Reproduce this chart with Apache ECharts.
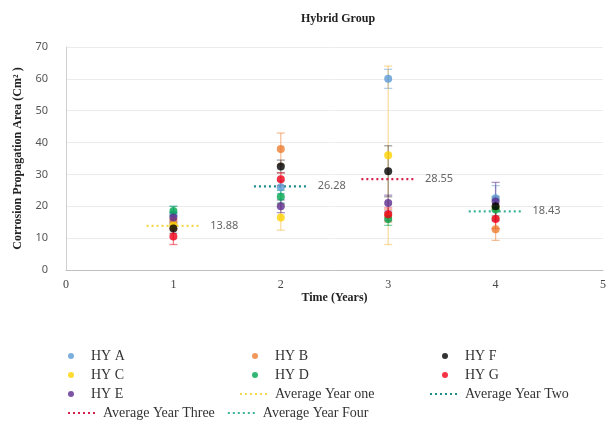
<!DOCTYPE html>
<html><head><meta charset="utf-8">
<script src="https://cdn.jsdelivr.net/npm/echarts@6/dist/echarts.min.js"></script>
<style>html,body{margin:0;padding:0;background:#fff}#c{width:609px;height:447px}</style>
</head><body><div id="c"></div>
<script>
var years = [1, 2, 3, 4];
var seriesNames = ['HY A', 'HY B', 'HY C', 'HY D', 'HY E', 'HY F', 'HY G'];
var hyA = [17.5, 26, 60, 22.5];
var hyB = [15.5, 38, 17, 12.8];
var hyC = [14, 16.5, 36, 19.5];
var hyD = [18.5, 23, 16, 19];
var hyE = [16.5, 20, 21, 21.5];
var hyF = [13, 32.5, 31, 20];
var hyG = [10.5, 28.5, 17.5, 16];
var errA = [2.5, 2, 3, 4];
var errB = [1.5, 5, 2, 3.5];
var errC = [1.5, 4, 28, 3];
var errD = [1.5, 2, 2, 3];
var errE = [1.5, 2, 2.5, 6];
var errF = [1.5, 2, 8, 3];
var errG = [2.5, 2, 2, 3];
var averages = [13.88, 26.28, 28.55, 18.43];
var avgNames = ['Average Year one', 'Average Year Two', 'Average Year Three', 'Average Year Four'];
var yTicks = [0, 10, 20, 30, 40, 50, 60, 70];
var xTicks = [0, 1, 2, 3, 4, 5];

var values = [hyA, hyB, hyC, hyD, hyE, hyF, hyG];
var errs = [errA, errB, errC, errD, errE, errF, errG];
var colors = ['#5B9BD5', '#ED7D31', '#FFD200', '#00A651', '#5B2C8F', '#000000', '#F00018'];
var errColors = ['#5B9BD5', '#ED7D31', '#F5B942', '#00A651', '#5B2C8F', '#444444', '#F00018'];
var avgColors = ['#F5D94A', '#1F8C8C', '#D6204A', '#3DB39A'];
var halfW = 0.25;
var serif = 'Liberation Serif';

var series = [];
values.forEach(function (vals, i) {
  series.push({
    type: 'custom',
    name: seriesNames[i] + ' err',
    silent: true,
    z: 1,
    data: years.map(function (y, j) { return [y, vals[j] - errs[i][j], vals[j] + errs[i][j]]; }),
    renderItem: function (params, api) {
      var lo = api.coord([api.value(0), api.value(1)]);
      var hi = api.coord([api.value(0), api.value(2)]);
      var w = 4;
      var st = { stroke: errColors[i], lineWidth: 1.3, opacity: 0.5 };
      return { type: 'group', children: [
        { type: 'line', shape: { x1: lo[0], y1: lo[1], x2: hi[0], y2: hi[1] }, style: st },
        { type: 'line', shape: { x1: lo[0] - w, y1: lo[1], x2: lo[0] + w, y2: lo[1] }, style: st },
        { type: 'line', shape: { x1: hi[0] - w, y1: hi[1], x2: hi[0] + w, y2: hi[1] }, style: st }
      ] };
    }
  });
});
values.forEach(function (vals, i) {
  series.push({
    type: 'scatter',
    name: seriesNames[i],
    symbolSize: 8,
    z: 3,
    itemStyle: { color: colors[i] },
    data: years.map(function (y, j) { return [y, vals[j]]; })
  });
});
averages.forEach(function (a, i) {
  series.push({
    type: 'line',
    name: avgNames[i],
    symbol: 'none',
    z: 2,
    lineStyle: { color: avgColors[i], type: [2, 3], width: 2.2 },
    itemStyle: { color: avgColors[i] },
    endLabel: { show: true, distance: 10, formatter: String(a), color: '#666', fontSize: 11, fontFamily: 'Noto Sans' },
    data: [[years[i] - halfW, a], [years[i] + halfW, a]]
  });
});

var legendBase = {
  orient: 'vertical', itemWidth: 30, itemHeight: 6, itemGap: 5,
  textStyle: { fontFamily: serif, fontSize: 14, color: '#333' },
  itemStyle: { borderWidth: 0 }
};
function lg(extra) { return Object.assign({}, legendBase, extra); }
function lineItem(n) { return { name: n, itemStyle: { opacity: 0 } }; }

var chart = echarts.init(document.getElementById('c'));
chart.setOption({
  animation: false,
  title: { text: 'Hybrid Group', left: 333, top: 8, textAlign: 'center',
    textStyle: { fontFamily: serif, fontWeight: 'bold', fontSize: 12, color: '#222' } },
  grid: { left: 66, right: 2, top: 47, bottom: 177, containLabel: false },
  xAxis: {
    type: 'value', min: 0, max: 5, interval: 1,
    name: 'Time (Years)', nameLocation: 'middle', nameGap: 19,
    nameTextStyle: { fontFamily: serif, fontWeight: 'bold', fontSize: 12, color: '#222' },
    axisLine: { lineStyle: { color: '#bfbfbf' } }, axisTick: { show: false },
    splitLine: { show: false },
    axisLabel: { fontFamily: serif, fontSize: 12, color: '#444', margin: 9,
      formatter: function (v) { return xTicks.indexOf(v) >= 0 ? String(v) : ''; } }
  },
  yAxis: {
    type: 'value', min: 0, max: 70, interval: 10,
    name: 'Corrosion Propagation Area (Cm² )', nameLocation: 'middle', nameGap: 42,
    nameTextStyle: { fontFamily: serif, fontWeight: 'bold', fontSize: 12, color: '#222' },
    axisLine: { show: true, lineStyle: { color: '#d0d0d0' } }, axisTick: { show: false },
    splitLine: { lineStyle: { color: '#ececec' } },
    axisLabel: { fontFamily: 'Noto Sans', fontSize: 11, color: '#555', margin: 18,
      formatter: function (v) { return yTicks.indexOf(v) >= 0 ? String(v) : ''; } }
  },
  legend: [
    lg({ left: 63, top: 344, data: ['HY A', 'HY C', 'HY E'] }),
    lg({ left: 234, top: 344, data: ['HY B', 'HY D', lineItem('Average Year one')] }),
    lg({ left: 424, top: 344, data: ['HY F', 'HY G', lineItem('Average Year Two')] }),
    lg({ orient: 'horizontal', left: 62, top: 401, itemGap: 12, data: [lineItem('Average Year Three'), lineItem('Average Year Four')] })
  ],
  series: series
});
</script></body></html>
